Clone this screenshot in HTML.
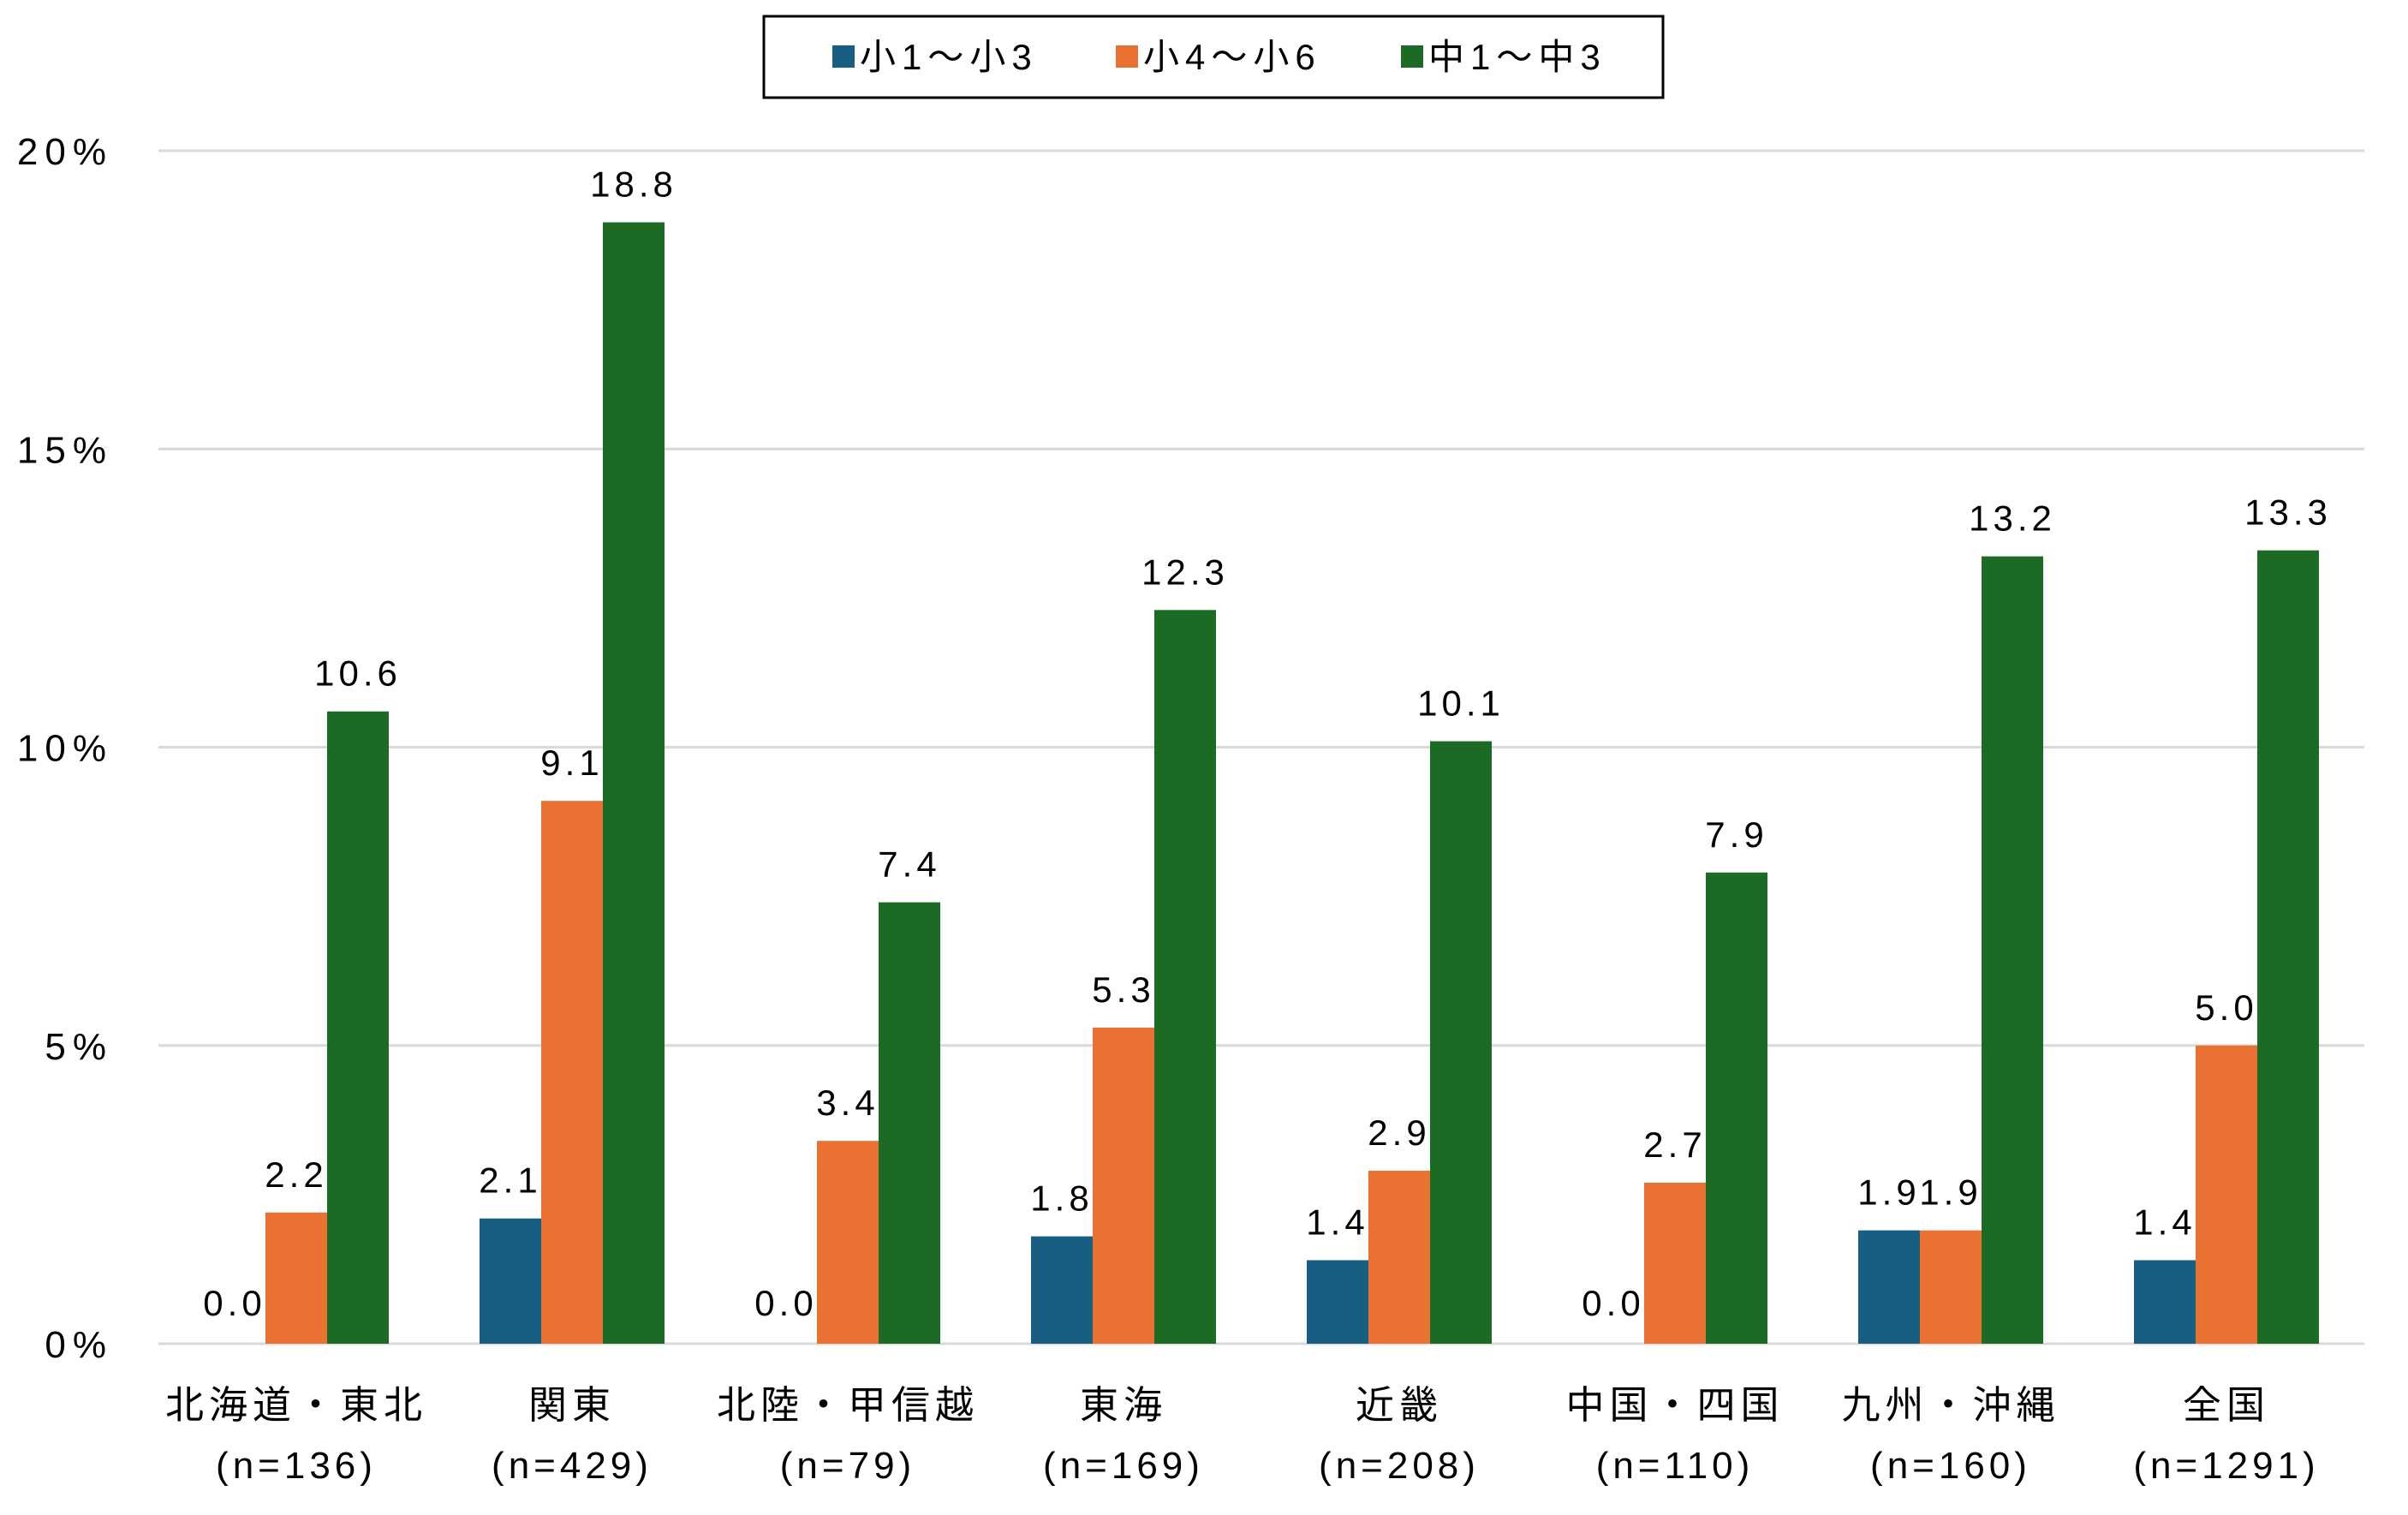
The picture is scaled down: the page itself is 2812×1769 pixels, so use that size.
<!DOCTYPE html>
<html><head><meta charset="utf-8"><style>
html,body{margin:0;padding:0;background:#fff;}
svg{display:block;font-family:"Liberation Sans","Noto Sans CJK JP",sans-serif;}
</style></head><body>
<svg id="chart" width="2812" height="1769" viewBox="0 0 2812 1769" xmlns="http://www.w3.org/2000/svg">
<g id="grid"></g>
<g id="bars"></g>
<g id="labels"></g>
<g id="xaxis"></g>
<g id="legend">
<rect x="892" y="19" width="1050" height="95" fill="#fff" stroke="#000" stroke-width="3"/>
</g>
</svg>
<script>
const categories = ["北海道・東北","関東","北陸・甲信越","東海","近畿","中国・四国","九州・沖縄","全国"];
const sampleSizes = ["(n=136)","(n=429)","(n=79)","(n=169)","(n=208)","(n=110)","(n=160)","(n=1291)"];
const seriesNames = ["小1〜小3","小4〜小6","中1〜中3"];
const seriesLower = [0.0,2.1,0.0,1.8,1.4,0.0,1.9,1.4];
const seriesUpper = [2.2,9.1,3.4,5.3,2.9,2.7,1.9,5.0];
const seriesJunior = [10.6,18.8,7.4,12.3,10.1,7.9,13.2,13.3];
const yTicks = [0,5,10,15,20];
const yTickLabels = ["0%","5%","10%","15%","20%"];

const colors = ["#185e82","#e97132","#1b6b24"];
const series = [seriesLower, seriesUpper, seriesJunior];
const X0 = 185, X1 = 2761, Y0 = 1569, Y20 = 176;
const groupW = (X1 - X0) / categories.length, barW = 72;
const NS = "http://www.w3.org/2000/svg";
function y(v){ return Y0 - (v/20)*(Y0-Y20); }
function xc(i){ return X0 + groupW*(i+0.5); }
function mk(tag, attrs, parent){ const e=document.createElementNS(NS,tag); for(const k in attrs) e.setAttribute(k,attrs[k]); parent.appendChild(e); return e; }

const grid=document.getElementById('grid');
yTicks.forEach((t,i)=>{
  const l=mk('line',{x1:X0,x2:X1,y1:y(t),y2:y(t),stroke:'#d9d9d9','stroke-width':3},grid);
  
  
  const tx=mk('text',{x:132,y:y(t)+16,'text-anchor':'end','font-size':44,'letter-spacing':8,fill:'#000'},grid);
  tx.textContent=yTickLabels[i];
  
  
});

const bars=document.getElementById('bars'), labels=document.getElementById('labels');
series.forEach((s,si)=>{
  s.forEach((v,i)=>{
    const bx = xc(i) + (si-1.5)*barW;
    const r=mk('rect',{x:bx,y:y(v),width:barW,height:Y0-y(v),fill:colors[si]},bars);
    
    
    const t=mk('text',{x:bx+barW/2,y:y(v)-(v===0?33:30),'text-anchor':'middle','font-size':42,'letter-spacing':5,fill:'#000'},labels);
    t.textContent=v.toFixed(1);
    
    
  });
});

const xa=document.getElementById('xaxis');
categories.forEach((c,i)=>{
  const t=mk('text',{x:xc(i),y:1656,'text-anchor':'middle','font-size':45,'letter-spacing':6,fill:'#000'},xa);
  t.textContent=c;
  
  
  const n=mk('text',{x:xc(i),y:1726,'text-anchor':'middle','font-size':44,'letter-spacing':5,fill:'#000'},xa);
  n.textContent=sampleSizes[i];
  
  
});

const lg=document.getElementById('legend');
const lx=[972,1303,1636];
seriesNames.forEach((nm,i)=>{
  const g=mk('g',{},lg);
  
  
  mk('rect',{x:lx[i],y:53,width:26,height:26,fill:colors[i]},g);
  const t=mk('text',{x:lx[i]+32,y:81,'font-size':42,'letter-spacing':7,fill:'#000'},g);
  t.textContent=nm;
});
</script>
</body></html>
